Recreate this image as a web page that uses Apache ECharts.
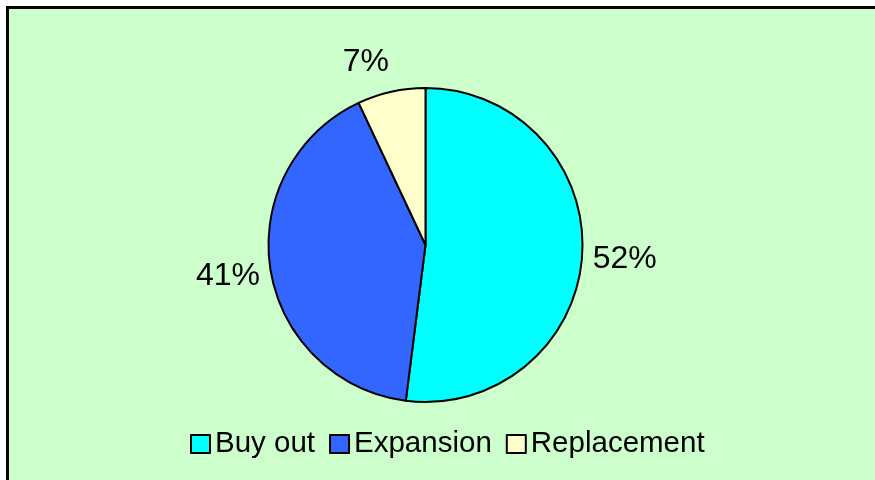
<!DOCTYPE html>
<html>
<head>
<meta charset="utf-8">
<script src="https://cdn.jsdelivr.net/npm/echarts@6/dist/echarts.min.js"></script>
<style>
  html, body { margin: 0; padding: 0; background: #ffffff; }
  #chart { width: 875px; height: 480px; }
</style>
</head>
<body>
<div id="chart"></div>
<script>
// Share of deals by type (%)
const categories = ['Buy out', 'Expansion', 'Replacement'];
const shares = [52, 41, 7];
const sliceColors = ['#00FFFF', '#3366FF', '#FFFFCC'];

// Pie geometry (pixels)
const CX = 425.5, CY = 245, RADIUS = 157;
// Percentage labels sit just outside the rim, along each slice's bisector
const LABEL_R = 167.5, LABEL_REACH = 189, LABEL_DROP = 2;

const total = shares.reduce((a, b) => a + b, 0);

function labelPlacement(params) {
  const i = params.dataIndex;
  let before = 0;
  for (let k = 0; k < i; k++) before += shares[k];
  const frac = (before + shares[i] / 2) / total;
  const theta = (90 - 360 * frac) * Math.PI / 180;
  const ux = Math.cos(theta), uy = -Math.sin(theta);
  return {
    x: CX + LABEL_R * ux,
    y: CY + LABEL_REACH * uy + LABEL_DROP,
    align: ux >= 0 ? 'left' : 'right',
    verticalAlign: 'middle'
  };
}

const chart = echarts.init(document.getElementById('chart'), null, { renderer: 'canvas' });

chart.setOption({
  animation: false,
  backgroundColor: '#ffffff',
  graphic: [{
    type: 'rect',
    z: -10,
    silent: true,
    shape: { x: 7.5, y: 7.5, width: 900, height: 500 },
    style: { fill: '#CCFFCC', stroke: '#000000', lineWidth: 3 }
  }],
  legend: {
    data: categories,
    left: 190,
    top: 429,
    padding: 0,
    itemWidth: 19,
    itemHeight: 18,
    itemGap: 14,
    icon: 'rect',
    itemStyle: { borderColor: '#000000', borderWidth: 2 },
    textStyle: { fontFamily: 'Liberation Sans, Arial, sans-serif', fontSize: 29.5, color: '#000000' },
    selectedMode: false
  },
  series: [{
    type: 'pie',
    center: [CX, CY],
    radius: RADIUS,
    startAngle: 90,
    clockwise: true,
    avoidLabelOverlap: false,
    silent: true,
    data: categories.map((name, i) => ({
      name: name,
      value: shares[i],
      itemStyle: { color: sliceColors[i] }
    })),
    itemStyle: { borderColor: '#000000', borderWidth: 2 },
    label: {
      show: true,
      position: 'outside',
      formatter: '{c}%',
      fontFamily: 'Liberation Sans, Arial, sans-serif',
      fontSize: 32,
      color: '#000000'
    },
    labelLine: { show: false },
    labelLayout: labelPlacement,
    emphasis: { disabled: true }
  }]
});
</script>
</body>
</html>
